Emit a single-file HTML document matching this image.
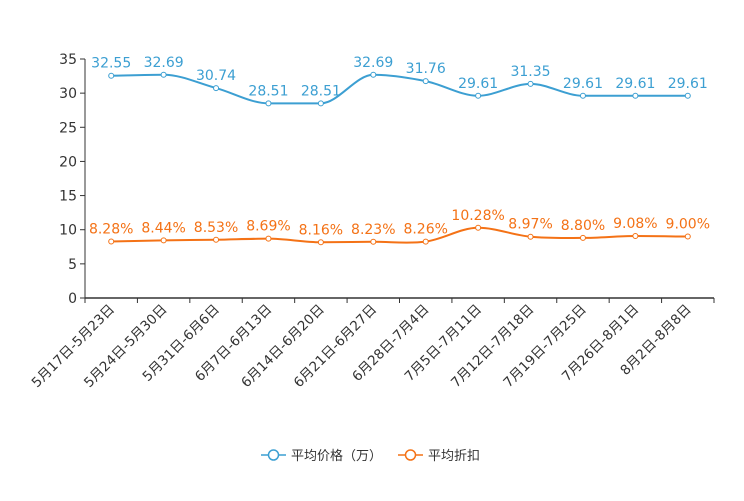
<!DOCTYPE html>
<html><head><meta charset="utf-8"><style>
body{margin:0;background:#fff;}
svg{font-family:"DejaVu Sans","Noto Sans CJK SC",sans-serif;}
</style></head><body>
<svg id="c" width="744" height="496"></svg>
<script>
const categories=["5月17日-5月23日","5月24日-5月30日","5月31日-6月6日","6月7日-6月13日","6月14日-6月20日","6月21日-6月27日","6月28日-7月4日","7月5日-7月11日","7月12日-7月18日","7月19日-7月25日","7月26日-8月1日","8月2日-8月8日"];
const priceValues=[32.55,32.69,30.74,28.51,28.51,32.69,31.76,29.61,31.35,29.61,29.61,29.61];
const discountValues=[8.28,8.44,8.53,8.69,8.16,8.23,8.26,10.28,8.97,8.80,9.08,9.00];
const yTicks=[0,5,10,15,20,25,30,35];
const svg=document.getElementById('c');
const NS='http://www.w3.org/2000/svg';
const L=85,R=714,T=59,B=298,YMAX=35;
const bw=(R-L)/categories.length;
const x=i=>L+bw*(i+0.5);
const y=v=>B-(v/YMAX)*(B-T);
function el(t,a,p){const e=document.createElementNS(NS,t);for(const k in a)e.setAttribute(k,a[k]);(p||svg).appendChild(e);return e;}
const ya=el('g',{});


el('line',{x1:L,y1:T,x2:L,y2:B,stroke:'#333','stroke-width':1},ya);
yTicks.forEach(v=>{
 el('line',{x1:L-5,y1:y(v),x2:L,y2:y(v),stroke:'#333'},ya);
 const t=el('text',{x:L-8,y:y(v)+5,'text-anchor':'end','font-size':14,fill:'#333'},ya);
 
 
 t.textContent=v;
});
const xa=el('g',{});


el('line',{x1:L,y1:B,x2:R,y2:B,stroke:'#333','stroke-width':1.5},xa);
for(let i=0;i<=categories.length;i++)el('line',{x1:L+bw*i,y1:B,x2:L+bw*i,y2:B+5,stroke:'#333'},xa);
categories.forEach((c,i)=>{
 const t=el('text',{x:x(i)+4,y:B+12,'text-anchor':'end','font-size':13.5,fill:'#333',transform:`rotate(-45 ${x(i)+4} ${B+12})`},xa);
 
 
 t.textContent=c;
});
function path(vals){
 const p=vals.map((v,i)=>[x(i),y(v)]);
 const n=p.length,h=bw;
 const d=[];for(let i=0;i<n-1;i++)d.push((p[i+1][1]-p[i][1])/h);
 const m=[d[0]];
 for(let i=1;i<n-1;i++){m.push(d[i-1]*d[i]<=0?0:(d[i-1]+d[i])/2);}
 m.push(d[n-2]);
 for(let i=0;i<n-1;i++){if(d[i]===0){m[i]=0;m[i+1]=0;}}
 let s=`M${p[0][0]},${p[0][1]}`;
 for(let i=0;i<n-1;i++){
  s+=` C${p[i][0]+h/3},${p[i][1]+m[i]*h/3} ${p[i+1][0]-h/3},${p[i+1][1]-m[i+1]*h/3} ${p[i+1][0]},${p[i+1][1]}`;
 }
 return s;
}
function series(vals,color,name,fmt){
 const g=el('g',{});
 
 
 el('path',{d:path(vals),fill:'none',stroke:color,'stroke-width':2},g);
 vals.forEach((v,i)=>{
  const c=el('circle',{cx:x(i),cy:y(v),r:2.5,fill:'#fff',stroke:color,'stroke-width':1},g);
  
  
  const t=el('text',{x:x(i),y:y(v)-8,'text-anchor':'middle','font-size':14,fill:color},g);
  
  
  t.textContent=fmt(v);
 });
}
series(priceValues,'#3c9fd2','price-series',v=>v.toFixed(2));
series(discountValues,'#f47216','discount-series',v=>v.toFixed(2)+'%');
function legend(lx,color,label,name){
 const g=el('g',{});
 
 
 el('line',{x1:lx,y1:455,x2:lx+25,y2:455,stroke:color,'stroke-width':1.5},g);
 el('circle',{cx:lx+12.5,cy:455,r:5,fill:'#fff',stroke:color,'stroke-width':1.5},g);
 const t=el('text',{x:lx+30,y:460,'font-size':13,fill:'#333'},g);
 t.textContent=label;
}
legend(261,'#3c9fd2','平均价格（万）','legend-price');
legend(398,'#f47216','平均折扣','legend-discount');
</script>
</body></html>
